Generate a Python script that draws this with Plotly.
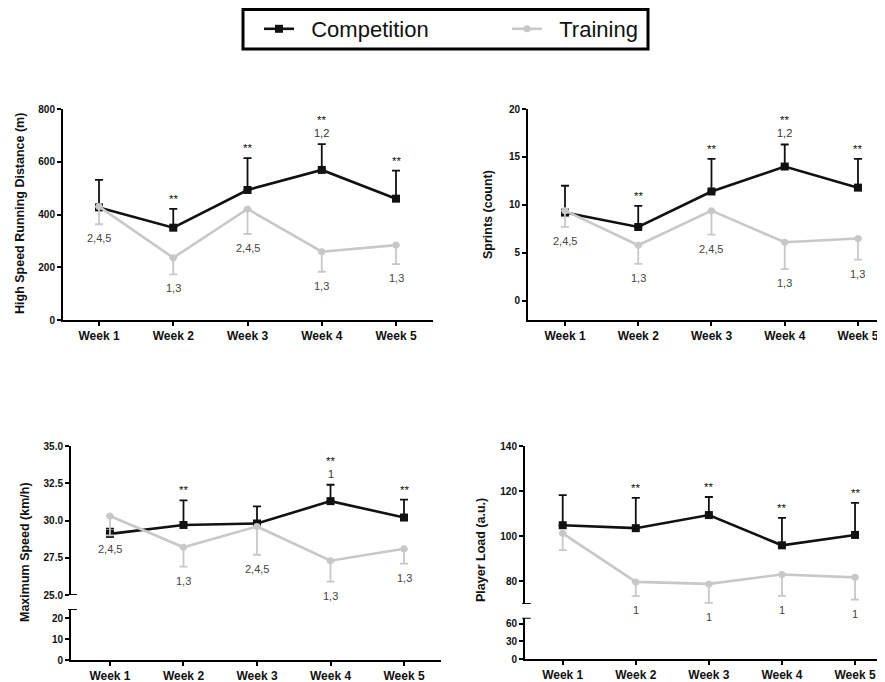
import plotly.graph_objects as go

weeks = ["Week 1", "Week 2", "Week 3", "Week 4", "Week 5"]

# High speed running distance (m)
hsr_comp = [427, 350, 493, 569, 460]
hsr_comp_sd = [104, 71, 121, 98, 106]
hsr_train = [430, 236, 421, 259, 284]
hsr_train_sd = [67, 63, 95, 76, 72]

# Sprints (count)
spr_comp = [9.2, 7.7, 11.4, 14.0, 11.8]
spr_comp_sd = [2.8, 2.2, 3.4, 2.3, 3.0]
spr_train = [9.4, 5.8, 9.4, 6.1, 6.5]
spr_train_sd = [1.7, 1.95, 2.5, 2.8, 2.2]

# Maximum speed (km/h)
ms_comp = [29.1, 29.7, 29.8, 31.3, 30.2]
ms_comp_sd = [0.35, 1.65, 1.15, 1.1, 1.2]
ms_train = [30.3, 28.2, 29.6, 27.3, 28.1]
ms_train_sd = [1.3, 1.3, 1.9, 1.4, 1.0]

# Player load (a.u.)
pl_comp = [104.9, 103.6, 109.4, 96.0, 100.6]
pl_comp_sd = [13.3, 13.4, 8.0, 12.2, 14.2]
pl_train = [101.3, 79.8, 78.9, 83.1, 81.8]
pl_train_sd = [7.4, 6.3, 8.4, 9.5, 9.9]

# significance labels
hsr_sig = ["", "**", "**", "**", "**"]
hsr_comp_lab = ["", "", "", "1,2", ""]
hsr_train_lab = ["2,4,5", "1,3", "2,4,5", "1,3", "1,3"]
spr_sig = ["", "**", "**", "**", "**"]
spr_comp_lab = ["", "", "", "1,2", ""]
spr_train_lab = ["2,4,5", "1,3", "2,4,5", "1,3", "1,3"]
ms_sig = ["", "**", "", "**", "**"]
ms_comp_lab = ["", "", "", "1", ""]
ms_train_lab = ["2,4,5", "1,3", "2,4,5", "1,3", "1,3"]
pl_sig = ["", "**", "**", "**", "**"]
pl_comp_lab = ["", "", "", "", ""]
pl_train_lab = ["", "1", "1", "1", "1"]

COMP = "#111111"
TRAIN = "#c8c8c8"
FONT = "Liberation Sans, Arial, sans-serif"
OFF = 8            # page body margin
W, H = 885 - OFF, 682 - OFF

fig = go.Figure()

panels = [
    ("x", "y", hsr_comp, hsr_comp_sd, hsr_train, hsr_train_sd, hsr_sig, hsr_comp_lab, hsr_train_lab),
    ("x2", "y2", spr_comp, spr_comp_sd, spr_train, spr_train_sd, spr_sig, spr_comp_lab, spr_train_lab),
    ("x3", "y3", ms_comp, ms_comp_sd, ms_train, ms_train_sd, ms_sig, ms_comp_lab, ms_train_lab),
    ("x4", "y4", pl_comp, pl_comp_sd, pl_train, pl_train_sd, pl_sig, pl_comp_lab, pl_train_lab),
]

annotations = []
for i, (xa, ya, c, csd, t, tsd, sig, clab, tlab) in enumerate(panels):
    fig.add_trace(go.Scatter(
        x=weeks, y=c, xaxis=xa, yaxis=ya, name="\u00a0\u00a0Competition", mode="lines+markers",
        line=dict(color=COMP, width=2.6), marker=dict(symbol="square", size=8, color=COMP),
        error_y=dict(type="data", array=csd, arrayminus=[0] * 5, symmetric=False,
                     color=COMP, thickness=1.8, width=4),
        showlegend=(i == 0), legendgroup="c", cliponaxis=False))
    fig.add_trace(go.Scatter(
        x=weeks, y=t, xaxis=xa, yaxis=ya, name="\u00a0\u00a0Training", mode="lines+markers",
        line=dict(color=TRAIN, width=2.6), marker=dict(symbol="circle", size=7, color=TRAIN),
        error_y=dict(type="data", array=[0] * 5, arrayminus=tsd, symmetric=False,
                     color=TRAIN, thickness=1.8, width=4),
        showlegend=(i == 0), legendgroup="t", cliponaxis=False))
    for k, wk in enumerate(weeks):
        top = c[k] + csd[k]
        bot = t[k] - tsd[k]
        if clab[k]:
            annotations.append(dict(x=wk, y=top, xref=xa, yref=ya, text=clab[k], showarrow=False,
                                    yanchor="middle", yshift=11, font=dict(size=11, color="#333", family=FONT)))
        if sig[k]:
            annotations.append(dict(x=wk, y=top, xref=xa, yref=ya, text=sig[k], showarrow=False,
                                    yanchor="middle", yshift=(24 if clab[k] else 10),
                                    font=dict(size=11.5, color="#111", family=FONT)))
        if tlab[k]:
            annotations.append(dict(x=wk, y=bot, xref=xa, yref=ya, text=tlab[k], showarrow=False,
                                    yanchor="middle", yshift=-14, font=dict(size=11, color="#444", family=FONT)))

# dummy traces for lower broken-axis sections
fig.add_trace(go.Scatter(x=[], y=[], xaxis="x3", yaxis="y5", showlegend=False, hoverinfo="skip"))
fig.add_trace(go.Scatter(x=[], y=[], xaxis="x4", yaxis="y6", showlegend=False, hoverinfo="skip"))


def px(v):
    return (v - OFF) / W


def py(v):
    return 1 - (v - OFF) / H


axis_common = dict(showline=True, linecolor="black", linewidth=2, ticks="outside", ticklen=4,
                   tickwidth=1.5, tickcolor="black", showgrid=False, zeroline=False)
xfont = dict(family=FONT, size=12, color="#111", weight="bold")
yfont = dict(family=FONT, size=10, color="#111", weight="bold")

fig.update_layout(
    xaxis=dict(domain=[px(63), px(433)], range=[-0.485, 4.498], anchor="y", tickfont=xfont, **axis_common),
    yaxis=dict(domain=[py(320), py(109)], range=[0, 800], tickvals=[0, 200, 400, 600, 800], anchor="x",
               tickfont=yfont, **axis_common),
    xaxis2=dict(domain=[px(528), 1.0], range=[-0.505, 4.369], anchor="y2", tickfont=xfont, **axis_common),
    yaxis2=dict(domain=[py(320), py(109)], range=[-2, 20], tickvals=[0, 5, 10, 15, 20], anchor="x2",
                tickfont=yfont, **axis_common),
    xaxis3=dict(domain=[px(71), px(441)], range=[-0.53, 4.503], anchor="y5", tickfont=xfont, **axis_common),
    yaxis3=dict(domain=[py(595), py(446)], range=[25, 35], tickvals=[25, 27.5, 30, 32.5, 35],
                tickformat=".1f", anchor="x3", tickfont=yfont, **axis_common),
    yaxis5=dict(domain=[py(660), py(609)], range=[0, 24.5], tickvals=[0, 10, 20], anchor="x3",
                tickfont=yfont, **axis_common),
    xaxis4=dict(domain=[px(525), 1.0], range=[-0.516, 4.41], anchor="y6", tickfont=xfont, **axis_common),
    yaxis4=dict(domain=[py(604), py(446)], range=[70, 140], tickvals=[80, 100, 120, 140], anchor="x4",
                tickfont=yfont, **axis_common),
    yaxis6=dict(domain=[py(659), py(617.7)], range=[0, 70], tickvals=[0, 30, 60], anchor="x4",
                tickfont=yfont, **axis_common),
)

titles = [
    ("High Speed Running Distance (m)", 20, 214),
    ("Sprints (count)", 488, 215),
    ("Maximum Speed (km/h)", 25, 552),
    ("Player Load (a.u.)", 481, 550),
]
for txt, xp, yp in titles:
    annotations.append(dict(text=txt, x=px(xp), y=py(yp), xref="paper", yref="paper", showarrow=False,
                            textangle=-90, xanchor="center", yanchor="middle",
                            font=dict(family=FONT, size=12.5, color="#111", weight="bold")))

shapes = [
    # broken-axis caps
    dict(type="line", xref="x3 domain", yref="y3", x0=0, x1=0.016, y0=25, y1=25, line=dict(color="black", width=2)),
    dict(type="line", xref="x3 domain", yref="y5", x0=-0.008, x1=0.016, y0=24.5, y1=24.5, line=dict(color="black", width=2)),
    dict(type="line", xref="x4 domain", yref="y4", x0=-0.008, x1=0.016, y0=70, y1=70, line=dict(color="black", width=2)),
    dict(type="line", xref="x4 domain", yref="y6", x0=-0.008, x1=0.016, y0=70, y1=70, line=dict(color="black", width=2)),
    # legend frame
    dict(type="rect", xref="paper", yref="paper", x0=px(243), x1=px(648), y0=py(49), y1=py(9.6),
         line=dict(color="black", width=3), fillcolor="rgba(0,0,0,0)", layer="below"),
]

fig.update_layout(
    width=W, height=H, margin=dict(l=0, r=0, t=0, b=0, autoexpand=False),
    paper_bgcolor="white", plot_bgcolor="white",
    annotations=annotations, shapes=shapes,
    legend=dict(orientation="h", x=px(259), y=py(29), xanchor="left", yanchor="middle",
                borderwidth=0, bgcolor="rgba(0,0,0,0)",
                font=dict(family=FONT, size=22, color="#111"), entrywidth=203, itemwidth=30),
)

fig.write_html("out.html")
